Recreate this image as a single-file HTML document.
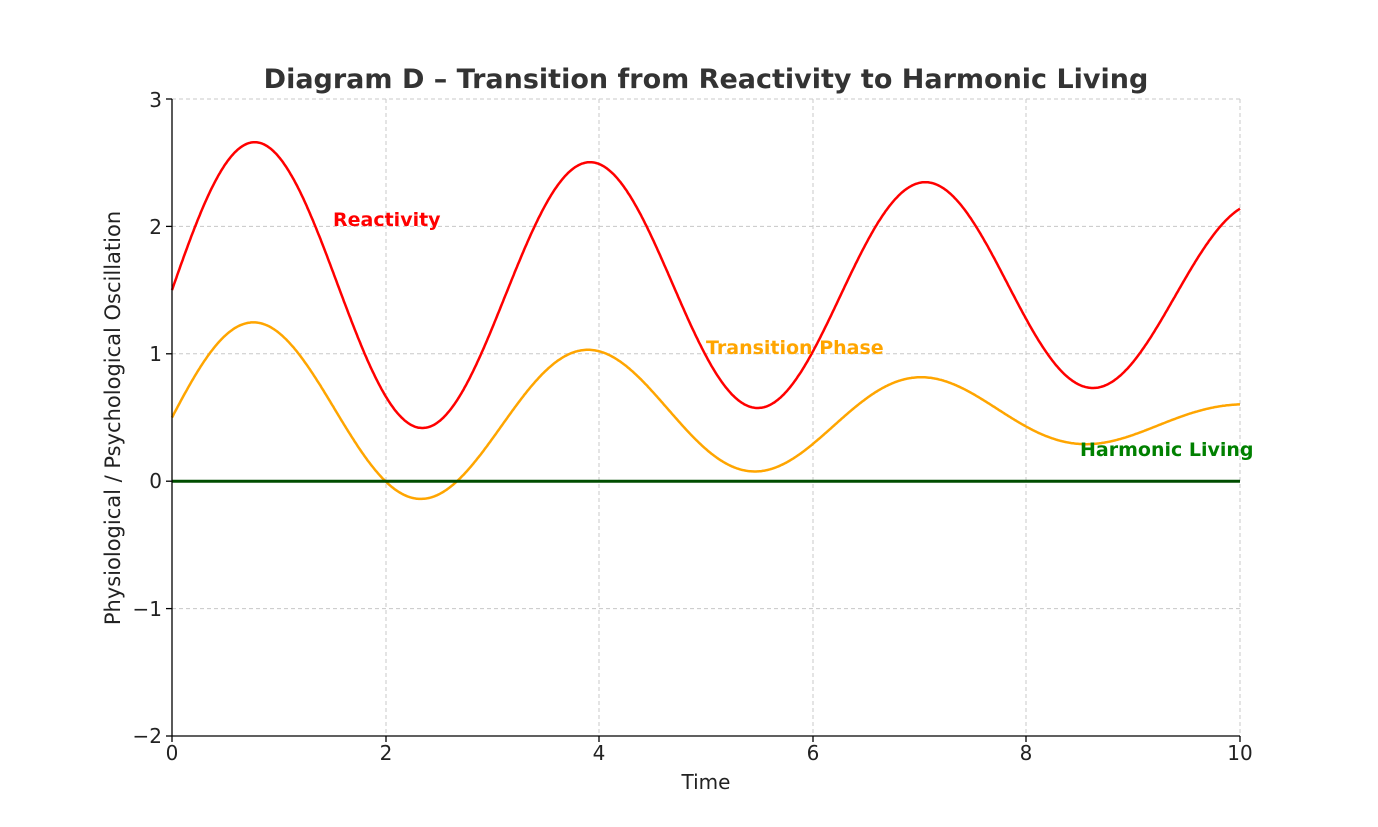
<!DOCTYPE html>
<html><head><meta charset="utf-8"><style>
html,body{margin:0;padding:0;background:#fff}
svg{display:block;font-family:"DejaVu Sans","Liberation Sans",sans-serif}
</style></head><body>
<svg id="s" width="1378" height="827" viewBox="0 0 1378 827" xmlns="http://www.w3.org/2000/svg">
<rect width="1378" height="827" fill="#fff"/>
<g stroke="#c8c8c8" stroke-width="1" stroke-dasharray="4,3">
<line x1="386" y1="99" x2="386" y2="736"/><line x1="599" y1="99" x2="599" y2="736"/>
<line x1="813" y1="99" x2="813" y2="736"/><line x1="1026" y1="99" x2="1026" y2="736"/>
<line x1="1240" y1="99" x2="1240" y2="736"/>
<line x1="172" y1="99" x2="1240" y2="99"/><line x1="172" y1="226.4" x2="1240" y2="226.4"/>
<line x1="172" y1="353.8" x2="1240" y2="353.8"/><line x1="172" y1="608.6" x2="1240" y2="608.6"/>
</g>
<path id="red" fill="none" stroke="#ff0000" stroke-width="2.5"/>
<path id="org" fill="none" stroke="#ffa500" stroke-width="2.5"/>
<line x1="172" y1="481.2" x2="1240" y2="481.2" stroke="#004d00" stroke-width="3"/>
<g stroke="#000" stroke-width="1.3">
<line x1="172" y1="99" x2="172" y2="736"/><line x1="172" y1="736" x2="1240" y2="736"/>
<line x1="166" y1="99" x2="172" y2="99"/><line x1="166" y1="226.4" x2="172" y2="226.4"/>
<line x1="166" y1="353.8" x2="172" y2="353.8"/><line x1="166" y1="481.2" x2="172" y2="481.2"/>
<line x1="166" y1="608.6" x2="172" y2="608.6"/><line x1="166" y1="736" x2="172" y2="736"/>
<line x1="172" y1="736" x2="172" y2="742"/><line x1="386" y1="736" x2="386" y2="742"/>
<line x1="599" y1="736" x2="599" y2="742"/><line x1="813" y1="736" x2="813" y2="742"/>
<line x1="1026" y1="736" x2="1026" y2="742"/><line x1="1240" y1="736" x2="1240" y2="742"/>
</g>
<g font-size="20" fill="#222" text-anchor="end">
<text x="162" y="107">3</text><text x="162" y="234">2</text><text x="162" y="361">1</text>
<text x="162" y="488">0</text><text x="162" y="616">−1</text><text x="162" y="743">−2</text>
</g>
<g font-size="20" fill="#222" text-anchor="middle">
<text x="172" y="760">0</text><text x="386" y="760">2</text><text x="599" y="760">4</text>
<text x="813" y="760">6</text><text x="1026" y="760">8</text><text x="1240" y="760">10</text>
</g>
<text x="706" y="789" font-size="20" fill="#222" text-anchor="middle">Time</text>
<text transform="translate(120,418) rotate(-90)" font-size="21" fill="#222" text-anchor="middle">Physiological / Psychological Oscillation</text>
<text x="706" y="88" font-size="27" font-weight="bold" fill="#333" text-anchor="middle">Diagram D – Transition from Reactivity to Harmonic Living</text>
<text x="333" y="226" font-size="19" font-weight="bold" fill="#ff0000">Reactivity</text>
<text x="706" y="354" font-size="19" font-weight="bold" fill="#ffa500">Transition Phase</text>
<text x="1080" y="456" font-size="19" font-weight="bold" fill="#008000">Harmonic Living</text>
</svg>
<script>
function X(t){return 172+t*106.8}
function Y(v){return 481.2-v*127.4}
var r="",o="";
for(var i=0;i<=1000;i++){var t=i/100;
var rv=1.5+(1.2-0.05*t)*Math.sin(2*t);
var ov=0.5+(0.8-0.0687*t)*Math.sin(2*t);
r+=(i?"L":"M")+X(t).toFixed(1)+","+Y(rv).toFixed(1);
o+=(i?"L":"M")+X(t).toFixed(1)+","+Y(ov).toFixed(1);}
document.getElementById("red").setAttribute("d",r);
document.getElementById("org").setAttribute("d",o);
</script>
</body></html>
